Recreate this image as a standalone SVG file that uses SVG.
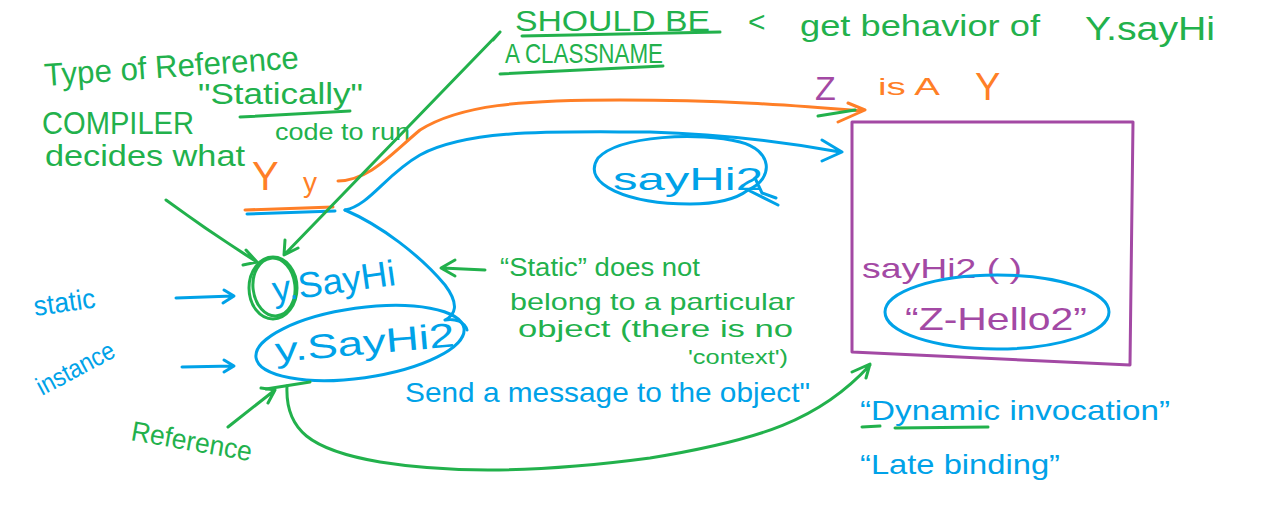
<svg xmlns="http://www.w3.org/2000/svg" width="1270" height="508" viewBox="0 0 1270 508">
<style>
.g{fill:#22b14c}.b{fill:#00a2e8}.o{fill:#ff7f27}.p{fill:#a349a4}
text{font-family:"Liberation Sans","DejaVu Sans",sans-serif}
.s{fill:none;stroke-width:3;stroke-linecap:round;stroke-linejoin:round}
.sg{stroke:#22b14c}.sb{stroke:#00a2e8}.so{stroke:#ff7f27}.sp{stroke:#a349a4}
</style>
<rect width="1270" height="508" fill="#fff"/>

<g id="compiler-note">
<text class="g" x="45" y="86" font-size="32" textLength="255" lengthAdjust="spacingAndGlyphs" transform="rotate(-4 45 86)">Type of Reference</text>
<text class="g" x="42" y="134" font-size="32" textLength="152" lengthAdjust="spacingAndGlyphs">COMPILER</text>
<text class="g" x="198" y="104" font-size="30" textLength="165" lengthAdjust="spacingAndGlyphs">"Statically"</text>
<path class="s sg" d="M240 117 L350 111"/>
<text class="g" x="45" y="166" font-size="30" textLength="200" lengthAdjust="spacingAndGlyphs">decides what</text>
<text class="g" x="275" y="140" font-size="24" textLength="135" lengthAdjust="spacingAndGlyphs">code to run</text>
</g>

<g id="should-be">
<text class="g" x="515" y="31" font-size="30" textLength="195" lengthAdjust="spacingAndGlyphs">SHOULD BE</text>
<path class="s sg" d="M522 36 L720 32"/>
<text class="g" x="505" y="63" font-size="28" textLength="158" lengthAdjust="spacingAndGlyphs">A CLASSNAME</text>
<path class="s sg" d="M500 74 L663 66"/>
<text class="g" x="748" y="32" font-size="30">&lt;</text>
<text class="g" x="800" y="36" font-size="30" textLength="240" lengthAdjust="spacingAndGlyphs">get behavior of</text>
<text class="g" x="1085" y="40" font-size="34" textLength="130" lengthAdjust="spacingAndGlyphs">Y.sayHi</text>
</g>

<g id="z-is-a-y">
<text class="p" x="815" y="100" font-size="34">Z</text>
<text class="o" x="878" y="95" font-size="24" textLength="62" lengthAdjust="spacingAndGlyphs">is A</text>
<text class="o" x="975" y="100" font-size="38">Y</text>
</g>

<g id="reference-decl">
<text class="o" x="252" y="190" font-size="40">Y</text>
<text class="o" x="303" y="192" font-size="28">y</text>
<path class="s so" stroke-width="4" d="M245 210 L333 207"/>
<path class="s sb" stroke-width="4" d="M247 214 L335 211"/>
</g>

<g id="static-label">
<text class="b" x="35" y="316" font-size="28" textLength="62" lengthAdjust="spacingAndGlyphs" transform="rotate(-8 35 316)">static</text>
</g>
<g id="instance-label">
<text class="b" x="42" y="396" font-size="26" textLength="85" lengthAdjust="spacingAndGlyphs" transform="rotate(-28 42 396)">instance</text>
</g>
<g id="reference-label">
<text class="g" x="130" y="440" font-size="28" textLength="122" lengthAdjust="spacingAndGlyphs" transform="rotate(10 130 440)">Reference</text>
</g>

<g id="y-sayhi">
<ellipse class="s sg" cx="273" cy="288" rx="24" ry="31"/>
<ellipse class="s sg" cx="274" cy="287" rx="21" ry="29" transform="rotate(-6 274 287)"/>
<text class="b" x="274" y="302" font-size="36" textLength="124" lengthAdjust="spacingAndGlyphs" transform="rotate(-8 274 302)">y.SayHi</text>
</g>

<g id="y-sayhi2">
<ellipse class="s sb" cx="360" cy="343" rx="105" ry="35" transform="rotate(-8 360 343)"/>
<text class="b" x="276" y="362" font-size="34" textLength="180" lengthAdjust="spacingAndGlyphs" transform="rotate(-5 276 362)">y.SayHi2</text>
</g>

<g id="static-note">
<text class="g" x="500" y="276" font-size="26" textLength="200" lengthAdjust="spacingAndGlyphs">“Static” does not</text>
<text class="g" x="510" y="310" font-size="24" textLength="285" lengthAdjust="spacingAndGlyphs">belong to a particular</text>
<text class="g" x="518" y="337" font-size="24" textLength="275" lengthAdjust="spacingAndGlyphs">object (there is no</text>
<text class="g" x="688" y="364" font-size="20" textLength="100" lengthAdjust="spacingAndGlyphs">'context')</text>
</g>

<g id="send-message">
<text class="b" x="405" y="402" font-size="28" textLength="405" lengthAdjust="spacingAndGlyphs">Send a message to the object"</text>
</g>

<g id="say-bubble">
<path class="s sb" d="M748 190 C775 178 772 150 740 142 C700 132 620 135 598 158 C580 185 630 204 690 204 C712 204 735 200 748 190 L778 205 M755 178 L762 193 L776 198"/>
<text class="b" x="613" y="190" font-size="32" textLength="150" lengthAdjust="spacingAndGlyphs">sayHi2</text>
</g>

<g id="class-z">
<path class="s sp" d="M852 122 L1133 122 L1130 365 L852 352 Z"/>
<text class="p" x="862" y="278" font-size="28" textLength="160" lengthAdjust="spacingAndGlyphs">sayHi2 ( )</text>
<ellipse class="s sb" cx="997" cy="312" rx="112" ry="37"/>
<text class="p" x="905" y="330" font-size="32" textLength="182" lengthAdjust="spacingAndGlyphs">“Z-Hello2”</text>
</g>

<g id="dynamic-note">
<text class="b" x="860" y="420" font-size="28" textLength="310" lengthAdjust="spacingAndGlyphs">“Dynamic invocation”</text>
<path class="s sg" d="M862 427 L880 426 M895 428 L988 427"/>
<text class="b" x="860" y="474" font-size="28" textLength="200" lengthAdjust="spacingAndGlyphs">“Late binding”</text>
</g>

<g id="connectors">
<path class="s so" d="M338 181 C370 180 390 155 420 130 C460 105 520 100 620 100 C720 100 790 105 862 111 M848 103 L865 110 L838 122"/>
<path class="s sg" stroke-width="4" d="M818 116 L855 110"/>
<path class="s sb" d="M345 210 C370 205 385 175 420 155 C470 128 560 132 650 132 C720 134 790 143 840 152 M822 140 L842 152 L822 161"/>
<path class="s sb" d="M345 210 C380 225 420 255 445 285 C460 305 455 315 445 320 M445 320 C455 318 465 322 467 330"/>
<path class="s sg" d="M166 200 C200 225 230 245 257 262 M246 250 L257 262 M243 265 L257 262"/>
<path class="s sg" d="M500 32 L493 40 M500 32 L285 254 M285 240 L284 255 L298 248"/>
<path class="s sg" d="M485 270 L442 268 M455 260 L441 268 L455 276"/>
<path class="s sb" d="M176 298 L233 296 M224 290 L234 296 L223 303"/>
<path class="s sb" d="M182 367 L233 366 M224 360 L234 366 L224 372"/>
<path class="s sg" d="M228 427 L275 390 M261 388 L275 390 L268 403"/>
<path class="s sg" stroke-width="4" d="M266 389 L310 382"/>
<path class="s sg" d="M287 386 C285 430 310 450 380 462 C460 475 560 470 650 458 C760 440 820 420 870 365 M852 372 L870 364 L866 378"/>
</g>
</svg>
